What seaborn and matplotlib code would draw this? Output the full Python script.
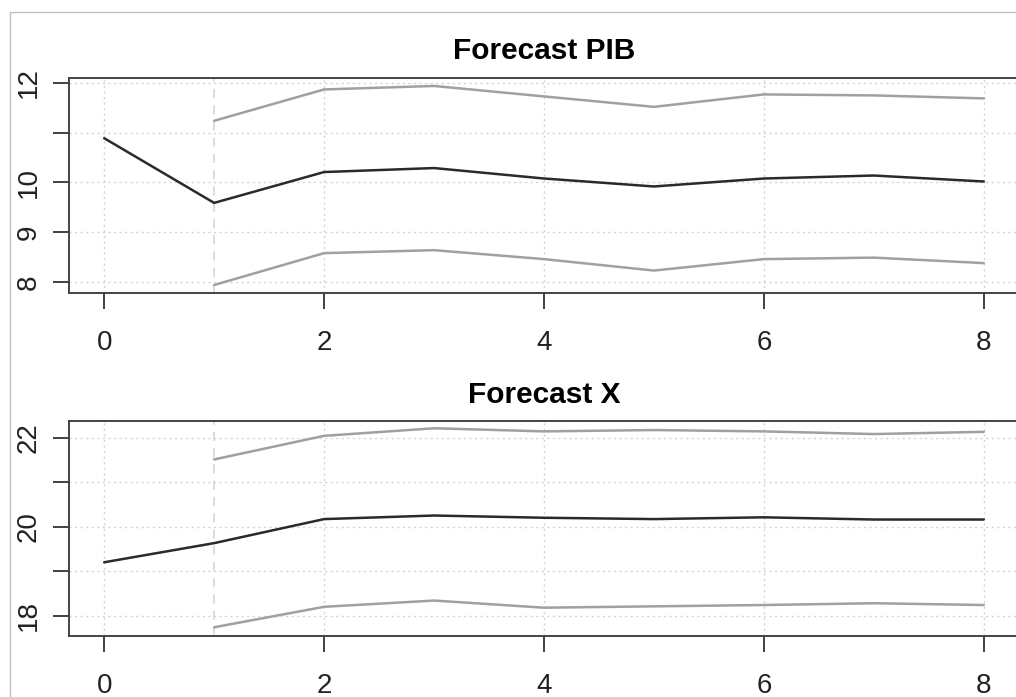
import matplotlib
matplotlib.use("Agg")
import matplotlib.pyplot as plt
from matplotlib import font_manager
from matplotlib.lines import Line2D
import seaborn as sns
import pandas as pd
import numpy as np

# ---- data ----
x_fc = [0, 1, 2, 3, 4, 5, 6, 7, 8]
x_ci = [1, 2, 3, 4, 5, 6, 7, 8]

pib_fc = [10.89, 9.59, 10.21, 10.29, 10.08, 9.92, 10.08, 10.14, 10.02]
pib_hi = [11.24, 11.87, 11.94, 11.73, 11.52, 11.77, 11.75, 11.69]
pib_lo = [7.94, 8.58, 8.64, 8.46, 8.23, 8.46, 8.49, 8.38]

x_var_fc = [19.20, 19.63, 20.17, 20.25, 20.20, 20.17, 20.21, 20.16, 20.16]
x_var_hi = [21.51, 22.04, 22.21, 22.14, 22.17, 22.14, 22.08, 22.13]
x_var_lo = [17.74, 18.20, 18.34, 18.18, 18.21, 18.24, 18.28, 18.24]

titles = ["Forecast PIB", "Forecast X"]
x_ticks = [0, 2, 4, 6, 8]
pib_yticks = [8, 9, 10, 11, 12]
pib_ylabels = ["8", "9", "10", "", "12"]
x_yticks = [18, 19, 20, 21, 22]
x_ylabels = ["18", "", "20", "", "22"]

sns.set_style("white")
names = {f.name for f in font_manager.fontManager.ttflist}
tick_font = "Liberation Sans Narrow" if "Liberation Sans Narrow" in names else "Liberation Sans"
plt.rcParams["font.family"] = ["Liberation Sans", "DejaVu Sans"]

W, H = 1016, 697
fig = plt.figure(figsize=(W / 100, H / 100), dpi=100)
fig.patch.set_facecolor("white")

def px_ax(left, top, right, bottom):
    return fig.add_axes([left / W, 1 - bottom / H, (right - left) / W, (bottom - top) / H])

ax1 = px_ax(69, 78, 1019, 293)
ax2 = px_ax(69, 420.7, 1019, 636)

panels = [
    (ax1, pib_fc, pib_hi, pib_lo, (7.779, 12.10), pib_yticks, pib_ylabels, 13.7),
    (ax2, x_var_fc, x_var_hi, x_var_lo, (17.544, 22.38), x_yticks, x_ylabels, 13.0),
]

for i, (ax, fc, hi, lo, ylim, yt, yl, tpad) in enumerate(panels):
    ax.set_facecolor("white")
    df_fc = pd.DataFrame({"step": x_fc, "value": fc})
    df_hi = pd.DataFrame({"step": x_ci, "value": hi})
    df_lo = pd.DataFrame({"step": x_ci, "value": lo})
    ax.set_xlim(-0.32, 8.32)
    ax.set_ylim(*ylim)
    # grid
    for xv in x_ticks:
        ax.axvline(xv, color="#d3d3d3", lw=1.0, ls=(0, (1.5, 2.5)), zorder=0)
    for yv in yt:
        ax.axhline(yv, color="#d3d3d3", lw=1.0, ls=(0, (1.5, 2.5)), zorder=0)
    ax.axvline(1, color="#d9d9d9", lw=1.3, ls=(0, (5, 4)), zorder=0)
    sns.lineplot(data=df_hi, x="step", y="value", ax=ax, color="#a0a0a0", lw=1.8)
    sns.lineplot(data=df_lo, x="step", y="value", ax=ax, color="#a0a0a0", lw=1.8)
    sns.lineplot(data=df_fc, x="step", y="value", ax=ax, color="#2a2a2a", lw=1.8)
    ax.set_xlabel("")
    ax.set_ylabel("")
    ax.set_xticks(x_ticks)
    ax.set_xticklabels([str(t) for t in x_ticks], fontfamily=tick_font, fontsize=20)
    ax.set_yticks(yt)
    ax.set_yticklabels(yl, fontfamily=tick_font, fontsize=20, rotation=90, va="center")
    ax.tick_params(axis="both", which="major", direction="out", length=11.5, width=1.3,
                   color="#333333", labelcolor="#222222",
                   bottom=True, left=True, top=False, right=False)
    ax.tick_params(axis="x", pad=15)
    ax.tick_params(axis="y", pad=8)
    for s in ax.spines.values():
        s.set_visible(True)
        s.set_color("#444444")
        s.set_linewidth(1.4)
    ax.set_title(titles[i], fontsize=21.5, fontweight="bold", pad=tpad, color="black")

# outer light frame (left and top edges visible)
fig.add_artist(Line2D([10 / W, 10 / W], [0, 1 - 12 / H], color="#c0c0c0", lw=1.0,
                      transform=fig.transFigure))
fig.add_artist(Line2D([10 / W, 1], [1 - 12 / H, 1 - 12 / H], color="#c0c0c0", lw=1.0,
                      transform=fig.transFigure))

fig.savefig("out.png", dpi=100, facecolor="white")
